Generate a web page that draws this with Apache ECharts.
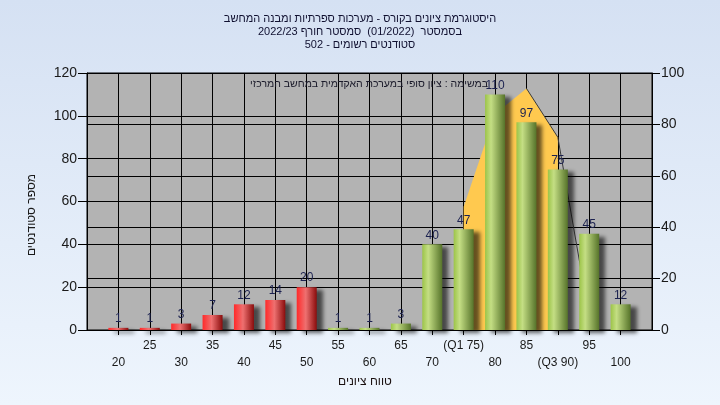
<!DOCTYPE html>
<html>
<head>
<meta charset="utf-8">
<script src="https://cdn.jsdelivr.net/npm/echarts@6/dist/echarts.min.js"></script>
<style>
html,body{margin:0;padding:0;width:720px;height:405px;overflow:hidden;
background:linear-gradient(to bottom,#d5e1f3 0%,#eef5fd 100%);}
#chart{width:720px;height:405px;}
</style>
</head>
<body>
<div id="chart"></div>
<script>
// ---- data ----
const grades = [20,25,30,35,40,45,50,55,60,65,70,75,80,85,90,95,100];
const counts = [1,1,3,7,12,14,20,1,1,3,40,47,110,97,75,45,12];
const tickLabels = {75:'(Q1 75)', 90:'(Q3 90)'};
const curveX = [75,80,85,90];
const curveY = [48,84,94,75];
const tailX = [85,90,95];
const tailY = [94,75,5];
const titleLines = ['היסטוגרמת ציונים בקורס - מערכות ספרתיות ומבנה המחשב',
  'בסמסטר  (01/2022)  סמסטר חורף 2022/23',
  'סטודנטים רשומים - 502'];
const subText = 'במשימה : ציון סופי במערכת האקדמית במחשב המרכזי';
const xName = 'טווח ציונים';
const yName = 'מספר סטודנטים';
const passMark = 55;

const FONT = 'Arial, "Liberation Sans", "DejaVu Sans", sans-serif';
const red = {type:'linear',x:0,y:0,x2:1,y2:0,colorStops:[
  {offset:0,color:'#ff2a2a'},{offset:0.45,color:'#ee7070'},{offset:1,color:'#8a0c0c'}]};
const green = {type:'linear',x:0,y:0,x2:1,y2:0,colorStops:[
  {offset:0,color:'#9cc448'},{offset:0.3,color:'#c4de84'},{offset:1,color:'#56732a'}]};

const barData = grades.map((g,i)=>({
  value:[g,counts[i]],
  itemStyle:{color: g<passMark ? red : green,
    shadowColor:'rgba(0,0,0,0.6)',shadowBlur:4,shadowOffsetX:6,shadowOffsetY:3}
}));

const chart = echarts.init(document.getElementById('chart'),null,{renderer:'canvas'});
chart.setOption({
  animation:false,
  backgroundColor:'transparent',
  textStyle:{fontFamily:FONT},
  title:[{
    text:titleLines.join('\n'),
    left:'center', top:7,
    textStyle:{fontSize:11,fontWeight:'normal',color:'#101030',lineHeight:13,fontFamily:FONT}
  },{
    text:subText, left:364, top:74, textAlign:'center',
    textStyle:{fontSize:10.5,fontWeight:'normal',color:'#1a1a2a',fontFamily:FONT}
  },{
    text:xName, left:360, top:371, textAlign:'center',
    textStyle:{fontSize:12,fontWeight:'normal',color:'#1a1010',fontFamily:FONT}
  }],
  graphic:[{
    type:'text', x:32, y:215, rotation:Math.PI/2,
    style:{text:yName, fill:'#1a1a1a', font:'12px '+FONT, textAlign:'center', textVerticalAlign:'middle'}
  }],
  grid:{left:87,right:68,top:73,bottom:75,show:true,backgroundColor:'#b3b3b3',borderColor:'#000',borderWidth:1},
  xAxis:{
    type:'value', min:15, max:105, interval:5,
    axisLine:{show:true,lineStyle:{color:'#000'}},
    axisTick:{show:true,length:5,lineStyle:{color:'#000'}},
    splitLine:{show:true,lineStyle:{color:'#000',width:1}},
    axisLabel:{
      margin:7, fontSize:12, lineHeight:17, color:'#1a1a1a', fontFamily:FONT,
      showMinLabel:false, showMaxLabel:false,
      formatter:function(v){
        if(v<20||v>100) return '';
        const t = tickLabels[v] || String(v);
        return (v%10===0) ? '\n'+t : t;
      }
    }
  },
  yAxis:[{
    type:'value', min:0, max:120, interval:20, position:'left',
    axisLine:{show:true,lineStyle:{color:'#000'}},
    axisTick:{show:true,length:9,lineStyle:{color:'#000'}},
    splitLine:{show:true,lineStyle:{color:'#000',width:1}},
    axisLabel:{fontSize:14,color:'#1a1a1a',margin:10,fontFamily:FONT}
  },{
    type:'value', min:0, max:100, interval:20, position:'right',
    axisLine:{show:true,lineStyle:{color:'#000'}},
    axisTick:{show:true,length:8,lineStyle:{color:'#000'}},
    splitLine:{show:true,lineStyle:{color:'#000',width:1}},
    axisLabel:{fontSize:14,color:'#1a1a1a',margin:9,fontFamily:FONT}
  }],
  series:[{
    type:'line', yAxisIndex:1, z:2,
    data:curveX.map((x,i)=>[x,curveY[i]]),
    symbol:'none', lineStyle:{width:0,color:'#ffc94f'},
    areaStyle:{color:'#ffc94f',opacity:1}
  },{
    type:'line', yAxisIndex:1, z:3,
    data:tailX.map((x,i)=>[x,tailY[i]]),
    symbol:'none', lineStyle:{width:1,color:'#3a3a3a'}
  },{
    type:'bar', z:5, barWidth:20,
    data:barData,
    label:{show:true,position:'top',distance:3,fontSize:12,color:'#1c2250',fontFamily:FONT}
  }]
});
</script>
</body>
</html>
